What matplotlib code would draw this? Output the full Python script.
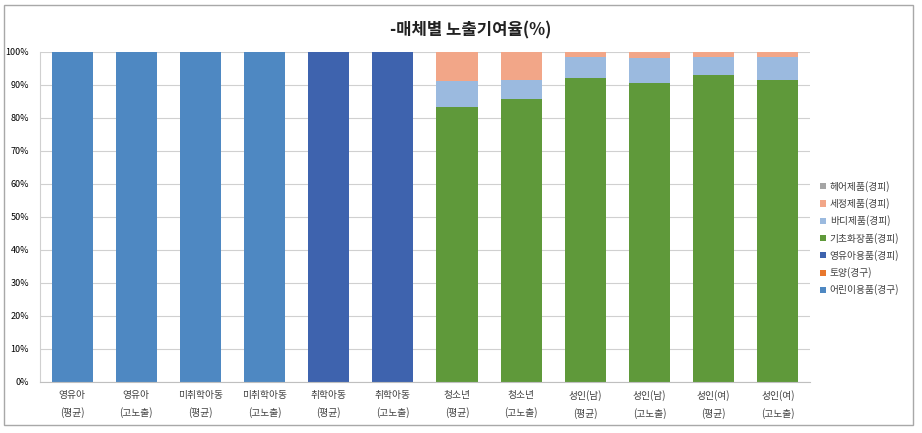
import matplotlib.pyplot as plt
import numpy as np

plt.rcParams['font.family'] = ['Noto Sans CJK KR', 'DejaVu Sans']

categories = ['영유아\n(평균)', '영유아\n(고노출)', '미취학아동\n(평균)', '미취학아동\n(고노출)',
              '취학아동\n(평균)', '취학아동\n(고노출)', '청소년\n(평균)', '청소년\n(고노출)',
              '성인(남)\n(평균)', '성인(남)\n(고노출)', '성인(여)\n(평균)', '성인(여)\n(고노출)']

series_names = ['어린이용품(경구)', '토양(경구)', '영유아용품(경피)', '기초화장품(경피)',
                '바디제품(경피)', '세정제품(경피)', '헤어제품(경피)']
colors = ['#4E88C2', '#E8772E', '#3E63AE', '#5F993A', '#9BBADF', '#F2A688', '#A5A5A5']

child = [100, 100, 100, 100, 0, 0, 0, 0, 0, 0, 0, 0]
soil = [0, 0, 0, 0, 0, 0, 0, 0, 0, 0, 0, 0]
infant = [0, 0, 0, 0, 100, 100, 0, 0, 0, 0, 0, 0]
basic = [0, 0, 0, 0, 0, 0, 83.3, 85.8, 92.2, 90.6, 93.1, 91.4]
body = [0, 0, 0, 0, 0, 0, 7.9, 5.7, 6.4, 7.5, 5.4, 7.0]
wash = [0, 0, 0, 0, 0, 0, 8.8, 8.5, 1.4, 1.9, 1.5, 1.6]
hair = [0, 0, 0, 0, 0, 0, 0, 0, 0, 0, 0, 0]

data = [child, soil, infant, basic, body, wash, hair]

fig = plt.figure(figsize=(9.22, 4.33), dpi=100)
fig.patches.append(plt.Rectangle((0.0043, 0.0185), 0.986, 0.970, transform=fig.transFigure,
                                 fill=False, edgecolor='#A8A8A8', linewidth=1))
ax = fig.add_axes([0.0434, 0.118, 0.835, 0.762])

x = np.arange(len(categories))
bottom = np.zeros(len(categories))
for name, vals, c in zip(series_names, data, colors):
    vals = np.array(vals) / 100
    ax.bar(x, vals, 0.64, bottom=bottom, color=c, label=name, zorder=2)
    bottom += vals

ax.set_xlim(-0.5, len(categories) - 0.5)
ax.set_ylim(0, 1)
ax.set_yticks(np.arange(0, 1.01, 0.1))
ax.set_yticklabels([f'{int(round(v * 100))}%' for v in np.arange(0, 1.01, 0.1)], fontsize=6.5)
ax.set_xticks(x)
ax.set_xticklabels(categories, fontsize=7, color='#404040', linespacing=1.8)
ax.tick_params(length=0, pad=6)
ax.tick_params(axis='y', pad=8)
ax.yaxis.grid(True, color='#D0D0D0', linewidth=0.8, zorder=0)
for s in ['top', 'right']:
    ax.spines[s].set_visible(False)
ax.spines['bottom'].set_color('#BFBFBF')
ax.spines['left'].set_color('#D0D0D0')

fig.text(0.51, 0.93, '-매체별 노출기여율(%)', ha='center', va='center',
         fontsize=12, fontweight='bold', color='#222222')

handles, labels = ax.get_legend_handles_labels()
fig.legend(handles[::-1], labels[::-1], loc='center left', bbox_to_anchor=(0.88, 0.45),
           frameon=False, fontsize=7, handlelength=0.6, handleheight=0.6,
           labelspacing=0.65, handletextpad=0.4, labelcolor='#404040')

fig.savefig('out.png', dpi=100)
